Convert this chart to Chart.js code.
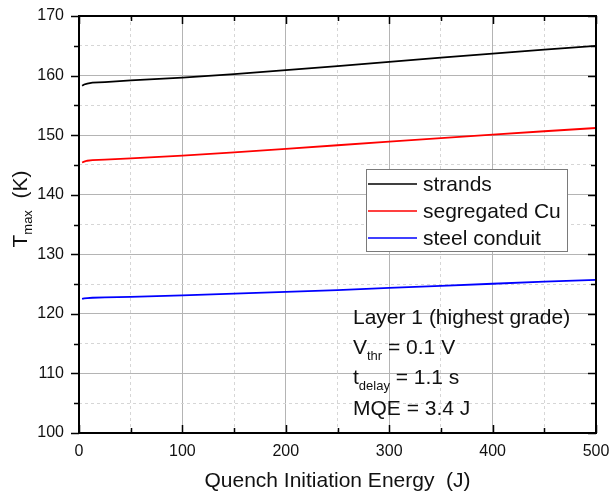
<!DOCTYPE html>
<html>
<head>
<meta charset="utf-8">
<script src="https://cdn.jsdelivr.net/npm/chart.js@4.4.0/dist/chart.umd.min.js"></script>
<style>
  html, body { margin: 0; padding: 0; background: #fff; }
  #wrap { width: 611px; height: 495px; }
</style>
</head>
<body>
<div id="wrap"><canvas id="c" width="611" height="495"></canvas></div>
<script>
// Tmax vs quench initiation energy, layer 1

const FONT = '"Liberation Sans", Arial, sans-serif';

const energy = [3, 5, 8, 13, 25, 50, 100, 150, 200, 250, 300, 350, 400, 450, 500];
const strands = [158.3, 158.5, 158.65, 158.8, 158.9, 159.2, 159.65, 160.25, 160.9, 161.6, 162.3, 163.0, 163.7, 164.35, 165.0];
const segregatedCu = [145.4, 145.55, 145.7, 145.8, 145.9, 146.1, 146.55, 147.1, 147.7, 148.3, 148.9, 149.5, 150.1, 150.65, 151.2];
const steelConduit = [122.5, 122.6, 122.65, 122.7, 122.75, 122.85, 123.1, 123.4, 123.7, 124.0, 124.35, 124.7, 125.05, 125.4, 125.7];

const seriesNames = ['strands', 'segregated Cu', 'steel conduit'];
const seriesColors = ['#000000', '#ff0000', '#0000ff'];

const xMin = 0, xMax = 500, xStep = 50, xLabelStep = 100;
const yMin = 100, yMax = 170, yStep = 5, yLabelStep = 10;

const xTitle = 'Quench Initiation Energy  (J)';
const noteLines = [
  ['Layer 1 (highest grade)', '', ''],
  ['V', 'thr', ' = 0.1 V'],
  ['t', 'delay', ' = 1.1 s'],
  ['MQE = 3.4 J', '', ''],
];

function toXY(xs, ys) {
  return xs.map((x, i) => ({ x: x, y: ys[i] }));
}

function gridColor(ctx, step) {
  return ctx.tick && ctx.tick.value % step === 0 ? '#b4b4b4' : '#d6d6d6';
}
function gridDash(ctx, step) {
  return ctx.tick && ctx.tick.value % step === 0 ? [] : [3, 3];
}

// ===== DECORATIONS (frame, ticks, titles, legend, note) =====
const decor = {
  id: 'decor',
  afterDraw(chart) {
    const ctx = chart.ctx;
    const a = chart.chartArea;
    const xs = chart.scales.x, ys = chart.scales.y;
    ctx.save();

    // frame
    ctx.strokeStyle = '#000';
    ctx.lineWidth = 2;
    ctx.strokeRect(a.left, a.top, a.right - a.left, a.bottom - a.top);

    // tick marks
    ctx.lineWidth = 1.5;
    ctx.beginPath();
    for (let v = xMin; v <= xMax; v += xStep) {
      const px = Math.round(xs.getPixelForValue(v)) + 0.5;
      const len = v % xLabelStep === 0 ? 8 : 5;
      ctx.moveTo(px, a.bottom); ctx.lineTo(px, a.bottom - len);
      ctx.moveTo(px, a.top); ctx.lineTo(px, a.top + len);
    }
    for (let v = yMin; v <= yMax; v += yStep) {
      const py = Math.round(ys.getPixelForValue(v)) + 0.5;
      const len = v % yLabelStep === 0 ? 8 : 5;
      ctx.moveTo(a.left, py); ctx.lineTo(a.left - len, py);
      ctx.moveTo(a.right, py); ctx.lineTo(a.right - len, py);
    }
    ctx.stroke();

    ctx.fillStyle = '#111';

    // x title
    ctx.font = '21px ' + FONT;
    ctx.textAlign = 'center';
    ctx.textBaseline = 'alphabetic';
    ctx.fillText(xTitle, (a.left + a.right) / 2, 487);

    // y title: T_max (K), rotated
    ctx.save();
    ctx.translate(27, 209);
    ctx.rotate(-Math.PI / 2);
    ctx.textAlign = 'left';
    const big = '21px ' + FONT, small = '13px ' + FONT;
    ctx.font = big;
    const wT = ctx.measureText('T').width;
    const wK = ctx.measureText('  (K)').width;
    ctx.font = small;
    const wM = ctx.measureText('max').width;
    let x0 = -(wT + wM + wK) / 2;
    ctx.font = big;
    ctx.fillText('T', x0, 0);
    ctx.font = small;
    ctx.fillText('max', x0 + wT, 5);
    ctx.font = big;
    ctx.fillText('  (K)', x0 + wT + wM, 0);
    ctx.restore();

    // legend
    const lx = 366, ly = 169, lw = 201, lh = 82;
    ctx.fillStyle = '#fff';
    ctx.fillRect(lx, ly, lw, lh);
    ctx.strokeStyle = '#7a7a7a';
    ctx.lineWidth = 1;
    ctx.strokeRect(lx + 0.5, ly + 0.5, lw, lh);
    ctx.font = '21px ' + FONT;
    ctx.textAlign = 'left';
    ctx.textBaseline = 'middle';
    chart.data.datasets.forEach((ds, i) => {
      const ry = 184 + i * 27;
      ctx.strokeStyle = ds.borderColor;
      ctx.lineWidth = 1.6;
      ctx.beginPath();
      ctx.moveTo(368, ry); ctx.lineTo(417, ry);
      ctx.stroke();
      ctx.fillStyle = '#111';
      ctx.fillText(ds.label, 423, ry + 1);
    });

    // note
    ctx.textBaseline = 'alphabetic';
    const baselines = [324, 354, 384, 415];
    noteLines.forEach((ln, i) => {
      let x = 353;
      const y = baselines[i];
      ctx.font = big;
      ctx.fillText(ln[0], x, y);
      x += ctx.measureText(ln[0]).width;
      if (ln[1]) {
        ctx.font = small;
        ctx.fillText(ln[1], x, y + 6);
        x += ctx.measureText(ln[1]).width;
        ctx.font = big;
        ctx.fillText(ln[2], x, y);
      }
    });

    ctx.restore();
  }
};

// ===== CHART =====
const datasets = [strands, segregatedCu, steelConduit].map((vals, i) => ({
  label: seriesNames[i],
  data: toXY(energy, vals),
  borderColor: seriesColors[i],
  backgroundColor: seriesColors[i],
  borderWidth: 1.8,
  pointRadius: 0,
  tension: 0,
  fill: false,
}));

new Chart(document.getElementById('c').getContext('2d'), {
  type: 'line',
  data: { datasets: datasets },
  plugins: [decor],
  options: {
    responsive: false,
    animation: false,
    layout: { padding: { top: 16, right: 15, left: 0, bottom: 0 } },
    plugins: {
      legend: { display: false },
      tooltip: { enabled: false },
    },
    scales: {
      x: {
        type: 'linear',
        min: xMin,
        max: xMax,
        afterFit: s => {
          s.height = 62;
          s.paddingLeft = 0; s.paddingRight = 0;
        },
        border: {
          display: false,
          dash: ctx => gridDash(ctx, xLabelStep),
        },
        grid: {
          drawTicks: false,
          color: ctx => gridColor(ctx, xLabelStep),
          lineWidth: 1,
        },
        ticks: {
          stepSize: xStep,
          padding: 9,
          maxRotation: 0,
          autoSkip: false,
          color: '#111',
          font: { family: FONT, size: 16 },
          callback: v => (v % xLabelStep === 0 ? String(v) : ''),
        },
      },
      y: {
        min: yMin,
        max: yMax,
        afterFit: s => {
          s.width = 79;
          s.paddingTop = 0; s.paddingBottom = 0;
        },
        border: {
          display: false,
          dash: ctx => gridDash(ctx, yLabelStep),
        },
        grid: {
          drawTicks: false,
          color: ctx => gridColor(ctx, yLabelStep),
          lineWidth: 1,
        },
        ticks: {
          stepSize: yStep,
          padding: 15,
          autoSkip: false,
          color: '#111',
          font: { family: FONT, size: 16 },
          callback: v => (v % yLabelStep === 0 ? String(v) : ''),
        },
      },
    },
  },
});
</script>
</body>
</html>
